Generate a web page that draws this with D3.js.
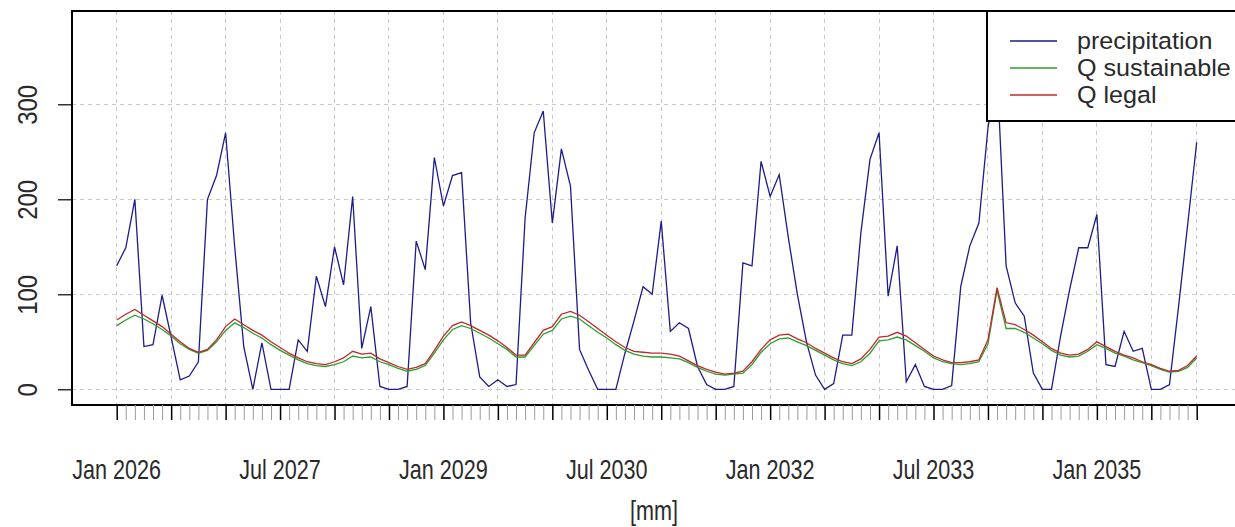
<!DOCTYPE html>
<html>
<head>
<meta charset="utf-8">
<script src="https://cdn.jsdelivr.net/npm/d3@7"></script>
<style>
  html, body { margin: 0; padding: 0; background: #fff; }
  svg { display: block; font-family: "Liberation Sans", Arial, sans-serif; }
</style>
</head>
<body>
<svg id="chart" width="1235" height="527"></svg>
<script>
// ---- data (monthly, Jan 2026 .. Dec 2035) ----
const startYear = 2026;
const monthNames = ["Jan","Feb","Mar","Apr","May","Jun","Jul","Aug","Sep","Oct","Nov","Dec"];

const precipitation = [
  130,149,200,45,47,99,55,10,14,29,200,225,
  270,150,45,0,49,0,0,0,52,40,119,87,
  150,110,203,43,87,3,0,0,3,156,126,244,
  193,225,228,70,13,3,10,3,5,180,270,293,
  175,253,214,42,20,0,0,0,38,72,108,100,
  177,61,70,64,24,5,0,0,3,133,130,240,
  203,226,160,100,50,15,0,6,57,57,165,242,
  270,98,151,8,26,3,0,0,4,108,151,175,
  275,335,130,91,77,17,0,0,56,105,149,149,
  184,26,24,61,40,43,0,0,5,87,173,260
];
const qSustainable = [
  67,73,78,74,69,63,56,48,42,38,41,50,
  62,70,65,59,54,47,41,36,31,27,25,24,
  26,29,35,33,34,29,26,22,19,21,25,38,
  52,63,67,64,59,54,48,42,34,34,46,58,
  62,74,77,74,67,60,54,47,41,37,35,34,
  34,33,32,28,23,19,16,15,16,17,26,39,
  48,53,54,50,46,41,36,31,27,25,29,38,
  51,52,55,52,46,40,33,29,27,26,27,29,
  48,104,64,64,60,54,48,41,36,34,35,40,
  47,43,38,35,31,28,25,21,18,19,23,33
];
const qLegal = [
  73,79,84,78,72,66,58,50,43,39,42,52,
  66,74,68,62,57,50,44,38,33,29,27,26,
  29,33,40,37,38,32,28,24,21,23,27,41,
  56,67,71,67,62,57,51,44,36,36,49,62,
  66,79,82,78,71,64,57,50,44,40,39,38,
  38,37,35,30,25,21,18,16,17,19,29,42,
  52,57,58,53,49,43,38,33,29,27,32,42,
  55,56,60,56,49,42,35,31,28,28,29,31,
  52,107,70,68,63,57,50,43,38,36,37,42,
  50,45,40,36,33,29,26,22,19,20,25,35
];
const yTicks = [0, 100, 200, 300];
const seriesNames = ["precipitation", "Q sustainable", "Q legal"];
const seriesColors = ["#1c1c8a", "#2ca02c", "#c0282d"];
const xTitle = "[mm]";

// ---- layout ----
const svg = d3.select("#chart");
const plotL = 72, plotT = 11, plotB = 405, plotR = 1238;
const textColor = "#2a2a2a";

const n = precipitation.length;
const x = d3.scaleLinear().domain([0, n - 1]).range([116.7, 1196.7]);
const y = d3.scaleLinear().domain([0, 300]).range([389.3, 104.3]);

const monthLabel = i => monthNames[i % 12] + " " + (startYear + Math.floor(i / 12));
const allMonths = d3.range(n);
const majorIdx = allMonths.filter(i => i % 6 === 0).concat([n - 1]);
const labelIdx = allMonths.filter(i => i % 18 === 0);

// grid
const gridColor = "#c9c9c9";
svg.append("g").selectAll("line").data(majorIdx).join("line")
  .attr("x1", d => x(d)).attr("x2", d => x(d))
  .attr("y1", plotT).attr("y2", plotB)
  .attr("stroke", gridColor).attr("stroke-width", 1).attr("stroke-dasharray", "4,4")
  .attr("shape-rendering", "crispEdges");
svg.append("g").selectAll("line").data(yTicks).join("line")
  .attr("x1", plotL).attr("x2", plotR)
  .attr("y1", d => y(d)).attr("y2", d => y(d))
  .attr("stroke", gridColor).attr("stroke-width", 1).attr("stroke-dasharray", "4,4")
  .attr("shape-rendering", "crispEdges");

// lines
const line = d3.line().x((d, i) => x(i)).y(d => y(d));
const series = [precipitation, qSustainable, qLegal];
series.forEach((s, k) => {
  svg.append("path").datum(s)
    .attr("d", line)
    .attr("fill", "none")
    .attr("stroke", seriesColors[k])
    .attr("stroke-width", 1.3)
    .attr("stroke-linejoin", "miter");
});

// plot box
svg.append("rect")
  .attr("x", plotL).attr("y", plotT)
  .attr("width", plotR - plotL).attr("height", plotB - plotT)
  .attr("fill", "none").attr("stroke", "#000").attr("stroke-width", 1.2)
  .attr("shape-rendering", "crispEdges");

// y axis
const yAxis = d3.axisLeft(y).tickValues(yTicks).tickSize(14).tickPadding(0).tickFormat(d3.format("d"));
const gy = svg.append("g").attr("transform", `translate(${plotL},0)`).call(yAxis);
gy.select(".domain").remove();
gy.selectAll(".tick line").attr("stroke", "#000").attr("stroke-width", 1.2);
gy.selectAll(".tick text").remove();
gy.selectAll(".tick").append("text")
  .attr("transform", "translate(-45,0) rotate(-90) scale(1,1.15)")
  .attr("text-anchor", "middle")
  .attr("dy", "0.35em")
  .attr("fill", textColor)
  .style("font-size", "24px")
  .text(d => d3.format("d")(d));

// x axis: minor (monthly) ticks
const xMinor = d3.axisBottom(x).tickValues(allMonths.filter(i => !majorIdx.includes(i))).tickSize(15).tickFormat("");
const gxm = svg.append("g").attr("transform", `translate(0,${plotB})`).call(xMinor);
gxm.select(".domain").remove();
gxm.selectAll(".tick line").attr("stroke", "#9a9a9a").attr("stroke-width", 1);

// x axis: major ticks
const xMajor = d3.axisBottom(x).tickValues(majorIdx).tickSize(15).tickFormat("");
const gx = svg.append("g").attr("transform", `translate(0,${plotB})`).call(xMajor);
gx.select(".domain").remove();
gx.selectAll(".tick line").attr("stroke", "#000").attr("stroke-width", 1.5);

// x labels
svg.append("g").selectAll("text").data(labelIdx).join("text")
  .attr("transform", d => `translate(${x(d)},479) scale(0.8,1)`)
  .attr("text-anchor", "middle")
  .attr("fill", textColor)
  .style("font-size", "27px")
  .text(d => monthLabel(d));

svg.append("text")
  .attr("transform", "translate(654,520) scale(0.8,1)")
  .attr("text-anchor", "middle")
  .attr("fill", textColor)
  .style("font-size", "27px")
  .text(xTitle);

// legend
const lg = svg.append("g");
lg.append("rect")
  .attr("x", 987).attr("y", plotT).attr("width", 260).attr("height", 110)
  .attr("fill", "#fff").attr("stroke", "#000").attr("stroke-width", 1.2)
  .attr("shape-rendering", "crispEdges");
const legY = [41, 68, 95];
seriesNames.forEach((name, k) => {
  lg.append("line")
    .attr("x1", 1010).attr("x2", 1057)
    .attr("y1", legY[k]).attr("y2", legY[k])
    .attr("stroke", seriesColors[k]).attr("stroke-width", 1.3);
  lg.append("text")
    .attr("transform", `translate(1077,${legY[k] + 8}) scale(1.07,1)`)
    .attr("fill", textColor)
    .style("font-size", "23.5px")
    .text(name);
});
</script>
</body>
</html>
